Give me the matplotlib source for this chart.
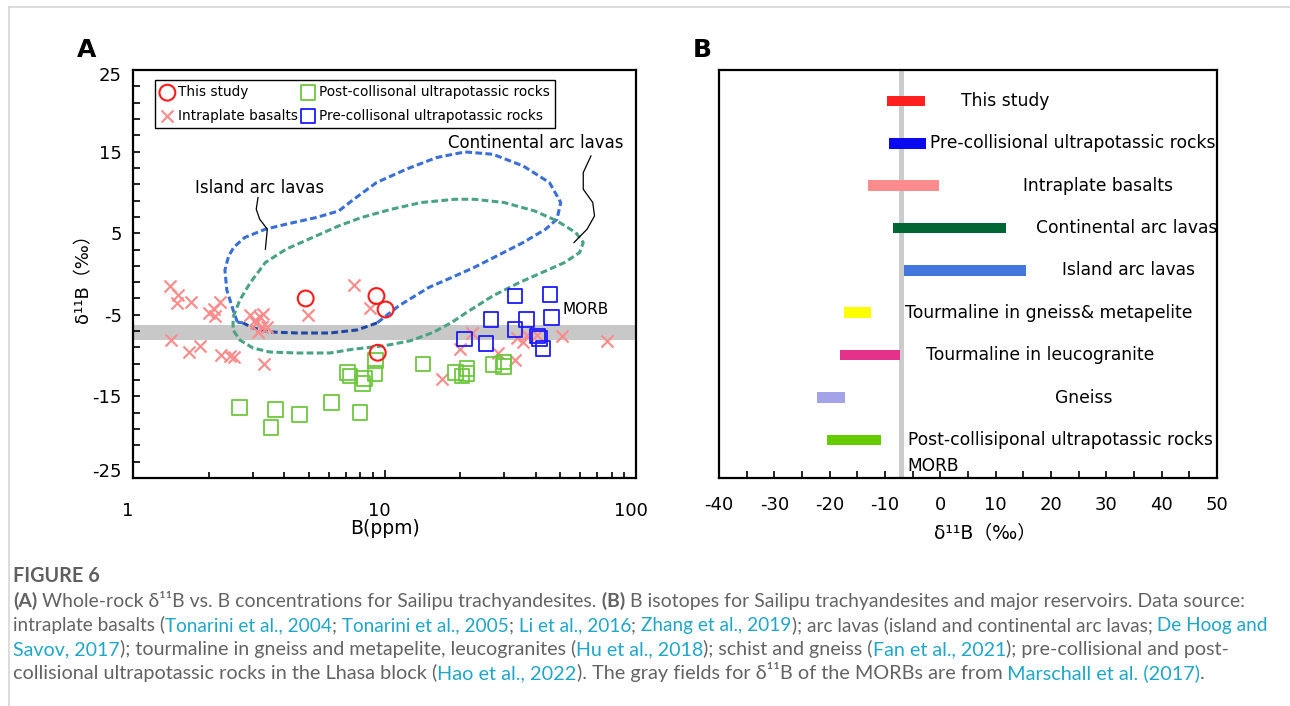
import numpy as np
import matplotlib
matplotlib.use("Agg")
import matplotlib.pyplot as plt
from matplotlib.lines import Line2D
from matplotlib.transforms import ScaledTranslation
from matplotlib.ticker import FixedLocator, MultipleLocator, NullFormatter, NullLocator

# ---------------- data, panel A (B ppm vs d11B) ----------------
this_B = [4.86, 9.29, 10.1, 9.4]
this_d = [-3.0, -2.7, -4.35, -9.65]

intra_B = [1.40, 1.51, 1.50, 1.70, 2.0, 2.09, 2.12, 2.22, 1.42, 1.67, 1.85, 2.23, 2.43, 2.52,
           3.33, 2.92, 3.06, 3.2, 3.3, 3.08, 3.25, 3.4, 3.15, 4.98, 7.56, 8.75,
           22.2, 19.96, 16.9, 28.3, 33.0, 33.5, 35.6, 36.7, 40.3, 50.6, 76.4]
intra_d = [-1.47, -2.57, -3.6, -3.47, -4.75, -4.3, -5.1, -3.4, -8.09, -9.52, -8.8, -9.93, -10.05, -10.2,
           -11.03, -5.02, -5.64, -5.23, -4.9, -6.05, -6.54, -6.46, -7.07, -5.02, -1.35, -4.2,
           -7.27, -9.23, -12.9, -9.72, -10.6, -7.88, -8.3, -7.48, -7.48, -7.6, -8.21]

post_B = [2.65, 3.69, 3.54, 4.6, 6.17, 7.99, 7.11, 7.29, 8.19, 8.31, 9.17, 9.23,
          14.2, 19.2, 20.3, 21.3, 21.2, 27.1, 29.7, 29.9]
post_d = [-16.38, -16.58, -18.79, -17.19, -15.72, -16.99, -12.1, -12.5, -13.4, -12.78, -12.17, -10.6,
          -11.03, -12.05, -12.5, -11.6, -12.17, -11.07, -11.36, -10.8]

pre_B = [33.0, 45.5, 26.5, 36.7, 46.2, 33.0, 20.8, 25.3, 40.5, 41.3, 42.6]
pre_d = [-2.7, -2.49, -5.55, -5.55, -5.31, -6.78, -7.97, -8.5, -7.6, -7.88, -9.1]

# outlines of the arc lava fields
island_B = [2.60, 2.50, 2.36, 2.32, 2.40, 2.52, 2.78, 3.36, 4.06, 5.35, 6.58, 7.55, 9.29, 12.2,
            16.1, 20.9, 27.0, 35.6, 45.3, 50.2, 48.5, 43.7, 35.6, 28.0, 22.7, 18.5, 15.0, 11.4,
            9.34, 7.77, 6.07, 4.49, 3.5, 3.0, 2.74, 2.60]
island_d = [-5.9, -4.4, -1.96, 0.49, 2.2, 3.3, 4.47, 5.49, 6.1, 6.92, 7.73, 9.16, 11.2, 12.84,
            14.27, 14.96, 14.67, 13.24, 11.2, 8.76, 6.71, 5.49, 3.86, 2.22, 0.8, -0.43, -1.65, -3.9,
            -6.0, -6.86, -7.23, -7.23, -7.1, -6.6, -6.0, -5.9]

cont_B = [2.50, 2.66, 2.92, 3.36, 4.06, 5.35, 6.58, 8.09, 10.66, 14.0, 19.1, 22.7, 29.9, 39.5,
          48.5, 57.6, 61.7, 59.7, 52.0, 42.3, 34.4, 27.0, 21.2, 18.5, 15.6, 12.7, 9.95, 7.55,
          6.07, 4.49, 3.5, 3.0, 2.66, 2.50, 2.50]
cont_d = [-5.27, -3.19, -1.1, 1.41, 3.04, 4.67, 5.9, 6.92, 7.94, 8.76, 9.16, 9.16, 8.76, 7.73,
          6.51, 5.08, 3.86, 2.63, 1.41, 0.18, -1.04, -2.67, -4.71, -5.94, -7.16, -8.18, -8.8, -9.2,
          -9.68, -9.68, -9.56, -9.07, -8.09, -6.86, -5.27]

# label leader lines
island_lead_B = [3.14, 3.09, 3.19, 3.42, 3.39, 3.36]
island_lead_d = [9.37, 7.94, 6.71, 5.49, 4.27, 3.04]
cont_lead_B = [66.2, 61.7, 61.7, 67.3, 68.4, 63.9, 56.7]
cont_lead_d = [14.47, 12.43, 10.39, 8.76, 7.12, 5.49, 3.86]

morb_lo, morb_hi = -8.1, -6.2

# ---------------- data, panel B (ranges) ----------------
reservoirs = ["This study", "Pre-collisional ultrapotassic rocks", "Intraplate basalts",
              "Continental arc lavas", "Island arc lavas", "Tourmaline in gneiss& metapelite",
              "Tourmaline in leucogranite", "Gneiss", "Post-collisiponal ultrapotassic rocks"]
range_lo = [-9.7, -9.2, -13.0, -8.5, -6.5, -17.5, -18.2, -22.2, -20.5]
range_hi = [-2.7, -2.6, -0.3, 11.9, 15.4, -12.5, -7.2, -17.3, -10.8]
bar_colors = ["#ff1f1f", "#0a0af0", "#ff8c8c", "#006633", "#4477dd", "#ffff00",
              "#e5318a", "#a3a3ea", "#66cc00"]
label_x = [3.7, -1.9, 15.0, 17.2, 21.9, -6.4, -2.6, 20.8, -5.9]
morb_B_lo, morb_B_hi = -7.5, -6.5

W, H = 1290, 706
plt.rcParams["font.family"] = ["DejaVu Sans", "Noto Sans CJK SC"]
plt.rcParams["axes.unicode_minus"] = False

fig = plt.figure(figsize=(W / 100, H / 100), dpi=100)

def fx(px):
    return px / W

def fy(py):
    return 1 - py / H

def nudge(label, dx_px, dy_px):
    # shift a tick label by a few pixels, as in the original figure
    label.set_transform(label.get_transform() +
                        ScaledTranslation(dx_px / 100, dy_px / 100, fig.dpi_scale_trans))

# ---------------- panel A ----------------
axA = fig.add_axes([fx(133), fy(478), fx(636) - fx(133), fy(70) - fy(478)])
axA.set_xscale("log")
axA.set_xlim(1, 100)
axA.set_ylim(-25, 25)

axA.axhspan(morb_lo, morb_hi, color="#c8c8c8", lw=0, zorder=1)
dash = (0, (2.2, 1.1))
# island arc outline: the stretch lying in the MORB band is drawn darker
axA.plot(island_B[:29], island_d[:29], color="#3a6fd8", lw=2.2, ls=dash, zorder=2)
axA.plot(island_B[28:35], island_d[28:35], color="#1f48a6", lw=2.2, ls=dash, zorder=2)
axA.plot(island_B[34:], island_d[34:], color="#3a6fd8", lw=2.2, ls=dash, zorder=2)
axA.plot(cont_B, cont_d, color="#4aa385", lw=2.2, ls=dash, zorder=2)
axA.plot(island_lead_B, island_lead_d, color="black", lw=0.9, zorder=2)
axA.plot(cont_lead_B, cont_lead_d, color="black", lw=0.9, zorder=2)

axA.scatter(intra_B, intra_d, marker="x", s=75, color="#ff8a8a", linewidths=1.5, zorder=3,
            label="Intraplate basalts")
axA.scatter(post_B, post_d, marker="s", s=110, facecolors="none", edgecolors="#6cc83c",
            linewidths=1.3, zorder=3, label="Post-collisonal ultrapotassic rocks")
axA.scatter(pre_B, pre_d, marker="s", s=110, facecolors="none", edgecolors="#1a1aff",
            linewidths=1.3, zorder=3, label="Pre-collisonal ultrapotassic rocks")
axA.scatter(this_B, this_d, marker="o", s=130, facecolors="none", edgecolors="#ff1a1a",
            linewidths=1.5, zorder=4, label="This study")

axA.text(3.2, 10.5, "Island arc lavas", fontsize=12, ha="center", va="center")
axA.text(40, 16.0, "Continental arc lavas", fontsize=12, ha="center", va="center")
axA.text(63, -4.3, "MORB", fontsize=11, ha="center", va="center")

h, l = axA.get_legend_handles_labels()
order = [3, 0, 1, 2]
leg = axA.legend([h[i] for i in order], [l[i] for i in order], ncol=2, loc="upper left",
                 bbox_to_anchor=(0.044, 0.976), borderaxespad=0, fontsize=9.8, frameon=True,
                 fancybox=False, edgecolor="black", framealpha=1, handlelength=1.0,
                 handletextpad=0.3, columnspacing=0.2, labelspacing=0.7, borderpad=0.4)
leg.get_frame().set_linewidth(1.0)

axA.set_xticks([1, 10, 100])
axA.set_xticklabels(["1", "10", "100"])
axA.xaxis.set_minor_formatter(NullFormatter())
axA.yaxis.set_major_locator(FixedLocator([-25, -15, -5, 5, 15, 25]))
axA.yaxis.set_minor_locator(FixedLocator(np.arange(-25, 26, 2)))
axA.tick_params(which="both", direction="in", top=False, right=False, width=1.2, labelsize=13)
axA.tick_params(axis="x", which="major", length=6, pad=17)
axA.tick_params(axis="x", which="minor", length=4)
axA.tick_params(axis="y", which="both", length=5, pad=8)
for lab in axA.get_xticklabels():
    nudge(lab, -5, 0)
ylabs = axA.get_yticklabels()
nudge(ylabs[0], 0, 8)
nudge(ylabs[-1], 0, -4)
for sp in axA.spines.values():
    sp.set_linewidth(1.6)
axA.set_xlabel("B(ppm)", fontsize=13.5)
axA.xaxis.set_label_coords(0.5, -0.10)
axA.set_ylabel("δ¹¹B（‰）", fontsize=13)
axA.yaxis.set_label_coords(-0.080, 0.5)

# ---------------- panel B ----------------
axB = fig.add_axes([fx(719), fy(478), fx(1217) - fx(719), fy(70) - fy(478)])
axB.set_xlim(-40, 50)
axB.set_ylim(0.1, 9.73)
ypos = np.arange(len(reservoirs), 0, -1)
axB.axvspan(morb_B_lo, morb_B_hi, color="#cccccc", lw=0, zorder=1)
axB.barh(ypos, np.array(range_hi) - np.array(range_lo), left=range_lo, height=0.25,
         color=bar_colors, zorder=2)
for y, name, tx in zip(ypos, reservoirs, label_x):
    axB.text(tx, y, name, fontsize=12.3, ha="left", va="center")
axB.text(-5.9, 0.38, "MORB", fontsize=12.3, ha="left", va="center")

axB.xaxis.set_major_locator(MultipleLocator(10))
axB.xaxis.set_minor_locator(MultipleLocator(5))
axB.yaxis.set_major_locator(NullLocator())
axB.tick_params(which="both", direction="in", top=False, right=False, width=1.2,
                length=5, labelsize=13)
axB.tick_params(axis="x", which="major", pad=13)
for sp in axB.spines.values():
    sp.set_linewidth(1.6)
axB.set_xlabel("δ¹¹B（‰）", fontsize=13.5)
axB.xaxis.set_label_coords(0.535, -0.11)

fig.text(fx(77), fy(50), "A", fontsize=18, fontweight="bold", ha="left", va="center")
fig.text(fx(693), fy(50), "B", fontsize=18, fontweight="bold", ha="left", va="center")

# page frame lines
fig.add_artist(Line2D([fx(9), 1], [fy(7), fy(7)], transform=fig.transFigure, color="#d6d6d6", lw=1.2))
fig.add_artist(Line2D([fx(9), fx(9)], [fy(7), 0], transform=fig.transFigure, color="#d6d6d6", lw=1.2))

# ---------------- caption ----------------
grey = "#636363"
link = "#1fa6c9"
cap_font = "Lato"
caption = [
    [("(A)", "b"), (" Whole-rock δ¹¹B vs. B concentrations for Sailipu trachyandesites.", "t"),
     (" (B)", "b"), (" B isotopes for Sailipu trachyandesites and major reservoirs. Data source:", "t")],
    [("intraplate basalts (", "t"), ("Tonarini et al., 2004", "l"), (";", "t"),
     (" Tonarini et al., 2005", "l"), (";", "t"), (" Li et al., 2016", "l"), (";", "t"),
     (" Zhang et al., 2019", "l"), ("); arc lavas (island and continental arc lavas;", "t"),
     (" De Hoog and", "l")],
    [("Savov, 2017", "l"), ("); tourmaline in gneiss and metapelite, leucogranites (", "t"),
     ("Hu et al., 2018", "l"), ("); schist and gneiss (", "t"), ("Fan et al., 2021", "l"),
     ("); pre-collisional and post-", "t")],
    [("collisional ultrapotassic rocks in the Lhasa block (", "t"), ("Hao et al., 2022", "l"),
     ("). The gray fields for δ¹¹B of the MORBs are from", "t"), (" Marschall et al. (2017)", "l"),
     (".", "t")],
]
baselines = [607, 631, 655, 679]
line_ends = [1236, 1262, 1226, 1203]

renderer = fig.canvas.get_renderer()
sizes = []
for runs, end in zip(caption, line_ends):
    probe = fig.text(0, 0, "".join(s for s, _ in runs), fontsize=12, family=cap_font)
    sizes.append(12 * (end - 13) / probe.get_window_extent(renderer).width)
    probe.remove()

for runs, base, size in zip(caption, baselines, sizes):
    x = 13
    for s, kind in runs:
        t = fig.text(fx(x), fy(base), s, fontsize=size, family=cap_font, va="baseline",
                     color=link if kind == "l" else grey,
                     fontweight="bold" if kind == "b" else "normal")
        x += t.get_window_extent(renderer).width

fig.text(fx(13), fy(582), "FIGURE 6", fontsize=np.mean(sizes) * 1.02, family=cap_font,
         fontweight="bold", color="#5f5f5f", va="baseline")

fig.savefig("out.png", dpi=100)
